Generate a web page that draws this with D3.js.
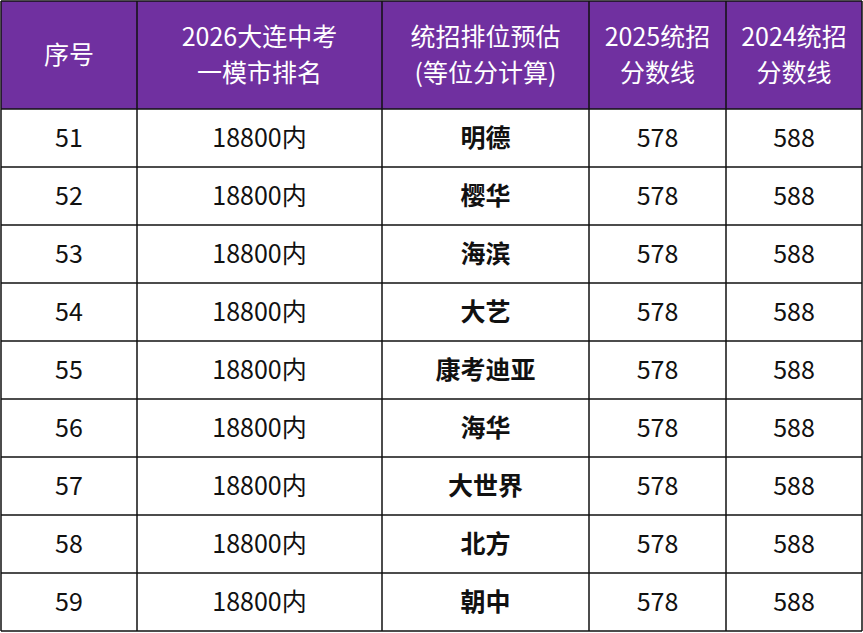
<!DOCTYPE html>
<html><head><meta charset="utf-8">
<script src="https://cdn.jsdelivr.net/npm/d3@7"></script>
<style>body{margin:0;background:#fff}</style></head>
<body><svg id="c" width="863" height="633"></svg>
<script>
const headers=[["序号"],["2026大连中考","一模市排名"],["统招排位预估","(等位分计算)"],["2025统招","分数线"],["2024统招","分数线"]];
const ranks=[51,52,53,54,55,56,57,58,59];
const positions=["18800内","18800内","18800内","18800内","18800内","18800内","18800内","18800内","18800内"];
const schools=["明德","樱华","海滨","大艺","康考迪亚","海华","大世界","北方","朝中"];
const score2025=[578,578,578,578,578,578,578,578,578];
const score2024=[588,588,588,588,588,588,588,588,588];
const colEdges=[1,137,382,589,726,862];
const svg=d3.select("#c");
const font="'Noto Sans CJK SC','Noto Sans',sans-serif";
const headH=109, rowH=58;
const y=d3.scaleBand().domain(d3.range(ranks.length)).range([headH,headH+rowH*ranks.length]);
svg.append("rect").attr("x",1).attr("y",1).attr("width",861).attr("height",headH-1).attr("fill","#7030A0");
headers.forEach((h,i)=>{
  const cx=(colEdges[i]+colEdges[i+1])/2;
  const t=svg.append("text").attr("x",cx).attr("text-anchor","middle").attr("fill","#fff").attr("font-family",font).attr("font-size",25);
  h.forEach((line,j)=>t.append("tspan").attr("x",cx).attr("y",h.length===1?64:(j===0?46:82)).text(line));
});
const cols=[ranks,positions,schools,score2025,score2024];
cols.forEach((arr,i)=>{
  const cx=(colEdges[i]+colEdges[i+1])/2;
  svg.selectAll(null).data(arr).enter().append("text")
    .attr("x",cx).attr("y",(d,k)=>y(k)+rowH/2+9).attr("text-anchor","middle")
    .attr("font-family",font).attr("font-size",25).attr("fill","#111")
    .attr("font-weight",i===2?"bold":"normal").text(d=>d);
});
const g=svg.append("g").attr("stroke","#111").attr("stroke-width",1.5);
const bottom=headH+rowH*ranks.length;
colEdges.forEach(x=>g.append("line").attr("x1",x).attr("x2",x).attr("y1",1).attr("y2",bottom));
[1,...ranks.map((d,k)=>y(k)),bottom].forEach(v=>g.append("line").attr("x1",1).attr("x2",862).attr("y1",v).attr("y2",v));
</script></body></html>
